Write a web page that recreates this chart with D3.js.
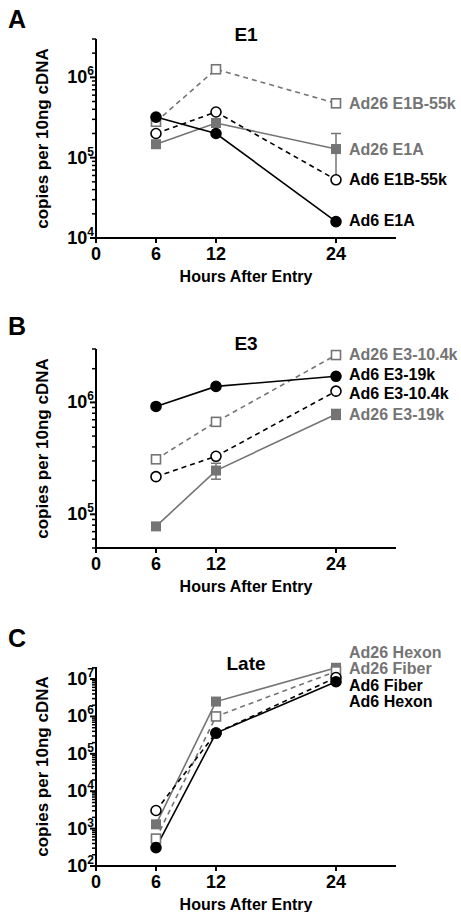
<!DOCTYPE html>
<html>
<head>
<meta charset="utf-8">
<style>
  body { margin: 0; background: #fff; }
  svg text { font-family: "Liberation Sans", Arial, sans-serif; font-weight: bold; }
</style>
</head>
<body>
<svg id="svg"></svg>
<script src="https://cdn.jsdelivr.net/npm/d3@7"></script>
<script>
// data
var hours = [6, 12, 24];
var xTicks = [0, 6, 12, 24];

// E1
var ad6E1A = [3.2e5, 2.0e5, 1.6e4];
var ad6E1B55k = [2.0e5, 3.7e5, 5.3e4];
var ad26E1B55k = [2.8e5, 1.26e6, 4.75e5];
var ad26E1A = [1.47e5, 2.7e5, 1.28e5];
var ad26E1AErr = [0, 0, 0.72e5];

// E3
var ad6E3_19k = [9.2e5, 1.39e6, 1.71e6];
var ad26E3_104k = [3.1e5, 6.7e5, 2.65e6];
var ad6E3_104k = [2.17e5, 3.3e5, 1.26e6];
var ad26E3_19k = [7.8e4, 2.46e5, 7.85e5];
var ad26E3_19kErr = [0, 0.4e5, 0.8e5];

// Late
var ad26Hexon = [1.3e3, 2.5e6, 2.0e7];
var ad26Fiber = [5.4e2, 1.0e6, 1.6e7];
var ad6Fiber = [3.05e3, 3.6e5, 1.1e7];
var ad6Hexon = [3.1e2, 3.6e5, 8.5e6];

var width = 461, height = 912;
var gray = "#747474", black = "#000000";

var svg = d3.select("#svg").attr("width", width).attr("height", height);

var panels = [
  {
    letter: "A", letterY: 28, title: "E1", titleY: 41, top: 39, bottom: 238, domain: [1e4, 3e6],
    majors: [1e4, 1e5, 1e6],
    series: [
      { name: "Ad26 E1B-55k", values: ad26E1B55k, color: gray, dash: "5,4", marker: "square", open: true },
      { name: "Ad26 E1A", values: ad26E1A, err: ad26E1AErr, color: gray, marker: "square", open: false },
      { name: "Ad6 E1B-55k", values: ad6E1B55k, color: black, dash: "5,4", marker: "circle", open: true },
      { name: "Ad6 E1A", values: ad6E1A, color: black, marker: "circle", open: false }
    ],
    nudge: [0, 0, 0, -1]
  },
  {
    letter: "B", letterY: 335, title: "E3", titleY: 350, top: 349, bottom: 548, domain: [5e4, 3e6],
    majors: [1e5, 1e6],
    series: [
      { name: "Ad26 E3-10.4k", values: ad26E3_104k, color: gray, dash: "5,4", marker: "square", open: true },
      { name: "Ad6 E3-19k", values: ad6E3_19k, color: black, marker: "circle", open: false },
      { name: "Ad6 E3-10.4k", values: ad6E3_104k, color: black, dash: "5,4", marker: "circle", open: true },
      { name: "Ad26 E3-19k", values: ad26E3_19k, err: ad26E3_19kErr, color: gray, marker: "square", open: false }
    ],
    nudge: [-1, -2, 2, 0]
  },
  {
    letter: "C", letterY: 647, title: "Late", titleY: 670, top: 667, bottom: 866, domain: [1e2, 2.1e7],
    majors: [1e2, 1e3, 1e4, 1e5, 1e6, 1e7],
    series: [
      { name: "Ad26 Hexon", values: ad26Hexon, color: gray, marker: "square", open: false },
      { name: "Ad26 Fiber", values: ad26Fiber, color: gray, dash: "5,4", marker: "square", open: true },
      { name: "Ad6 Fiber", values: ad6Fiber, color: black, dash: "5,4", marker: "circle", open: true },
      { name: "Ad6 Hexon", values: ad6Hexon, color: black, marker: "circle", open: false }
    ],
    stacked: true
  }
];

var x = d3.scaleLinear().domain([0, 30]).range([96, 396]);

panels.forEach(function (p) {
  var y = d3.scaleLog().domain(p.domain).range([p.bottom, p.top]);
  var g = svg.append("g");

  // panel letter and title
  g.append("text").attr("x", 8).attr("y", p.letterY).attr("font-size", 25).text(p.letter);
  g.append("text").attr("x", 246).attr("y", p.titleY)
    .attr("text-anchor", "middle").attr("font-size", 19).text(p.title);

  // minor ticks on the log axis
  var minors = [];
  var lo = Math.floor(Math.log10(p.domain[0])), hi = Math.ceil(Math.log10(p.domain[1]));
  for (var e = lo; e <= hi; e++) {
    for (var m = 1; m < 10; m++) {
      var v = m * Math.pow(10, e);
      if (v >= p.domain[0] && v <= p.domain[1] * 1.001 && p.majors.indexOf(v) < 0) minors.push(v);
    }
  }
  g.selectAll(".minor").data(minors).enter().append("line")
    .attr("x1", 96).attr("x2", 92)
    .attr("y1", function (d) { return y(d); }).attr("y2", function (d) { return y(d); })
    .attr("stroke", "#000").attr("stroke-width", 1.5);
  g.selectAll(".major").data(p.majors).enter().append("line")
    .attr("x1", 96).attr("x2", 90)
    .attr("y1", function (d) { return y(d); }).attr("y2", function (d) { return y(d); })
    .attr("stroke", "#000").attr("stroke-width", 2);

  // y tick labels 10^n
  var lab = g.selectAll(".ylab").data(p.majors).enter().append("text")
    .attr("x", 94).attr("y", function (d) { return y(d) + 6; })
    .attr("text-anchor", "end").attr("font-size", 18);
  lab.append("tspan").text("10");
  lab.append("tspan").attr("font-size", 12).attr("dy", -8)
    .text(function (d) { return String(Math.round(Math.log10(d))); });

  // axes lines
  g.append("line").attr("x1", 96).attr("x2", 96).attr("y1", p.top).attr("y2", p.bottom + 1)
    .attr("stroke", "#000").attr("stroke-width", 2);
  g.append("line").attr("x1", 95).attr("x2", 396).attr("y1", p.bottom).attr("y2", p.bottom)
    .attr("stroke", "#000").attr("stroke-width", 2);
  g.selectAll(".xt").data(xTicks).enter().append("line")
    .attr("x1", function (d) { return x(d); }).attr("x2", function (d) { return x(d); })
    .attr("y1", p.bottom).attr("y2", p.bottom + 5)
    .attr("stroke", "#000").attr("stroke-width", 2);
  g.selectAll(".xl").data(xTicks).enter().append("text")
    .attr("x", function (d) { return x(d); }).attr("y", p.bottom + 22)
    .attr("text-anchor", "middle").attr("font-size", 18).text(function (d) { return d; });
  g.append("text").attr("x", 246).attr("y", p.bottom + 44)
    .attr("text-anchor", "middle").attr("font-size", 16).text("Hours After Entry");
  g.append("text")
    .attr("transform", "translate(48," + ((p.top + p.bottom) / 2) + ") rotate(-90)")
    .attr("text-anchor", "middle").attr("font-size", 17).text("copies per 10ng cDNA");

  var line = d3.line().x(function (d, i) { return x(hours[i]); }).y(function (d) { return y(d); });

  // lines
  p.series.forEach(function (s) {
    g.append("path").attr("d", line(s.values)).attr("fill", "none")
      .attr("stroke", s.color).attr("stroke-width", 1.6)
      .attr("stroke-dasharray", s.dash || null);
  });

  // error bars
  p.series.forEach(function (s) {
    if (!s.err) return;
    s.values.forEach(function (v, i) {
      if (!s.err[i]) return;
      var cx = x(hours[i]), y1 = y(v + s.err[i]), y2 = y(v - s.err[i]);
      g.append("line").attr("x1", cx).attr("x2", cx).attr("y1", y1).attr("y2", y2)
        .attr("stroke", s.color).attr("stroke-width", 1.5);
      [y1, y2].forEach(function (yy) {
        g.append("line").attr("x1", cx - 5).attr("x2", cx + 5).attr("y1", yy).attr("y2", yy)
          .attr("stroke", s.color).attr("stroke-width", 1.5);
      });
    });
  });

  // markers
  p.series.forEach(function (s) {
    s.values.forEach(function (v, i) {
      var cx = x(hours[i]), cy = y(v);
      if (s.marker == "circle") {
        g.append("circle").attr("cx", cx).attr("cy", cy).attr("r", 5)
          .attr("fill", s.open ? "#fff" : s.color)
          .attr("stroke", s.color).attr("stroke-width", 1.6);
      } else {
        var sz = s.open ? 9 : 10;
        g.append("rect").attr("x", cx - sz / 2).attr("y", cy - sz / 2)
          .attr("width", sz).attr("height", sz)
          .attr("fill", s.open ? "#fff" : s.color)
          .attr("stroke", s.color).attr("stroke-width", s.open ? 1.6 : 0);
      }
    });
  });

  // labels
  p.series.forEach(function (s, i) {
    var ly = p.stacked ? p.top - 15 + i * 16.5 : y(s.values[2]) + p.nudge[i];
    g.append("text").attr("x", x(24) + 13).attr("y", ly + 5.5)
      .attr("font-size", 16).attr("fill", s.color).text(s.name);
  });
});
</script>
</body>
</html>
